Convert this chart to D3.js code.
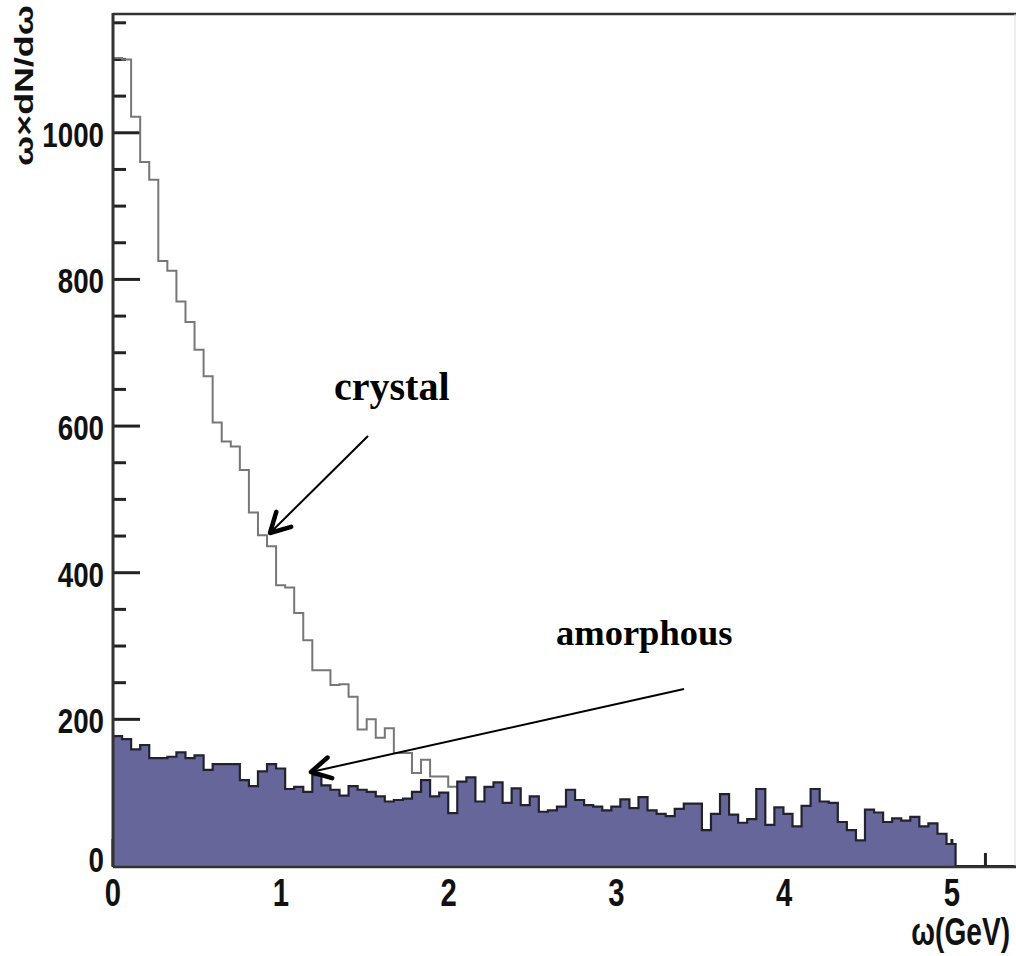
<!DOCTYPE html>
<html>
<head>
<meta charset="utf-8">
<script src="https://cdn.jsdelivr.net/npm/d3@7"></script>
<style>
    html, body { margin: 0; padding: 0; background: #fff; }
    svg { display: block; }
    .tick-label { font-family: "Liberation Sans", Arial, sans-serif; font-weight: bold; font-size: 36px; fill: #111; }
    .note { font-family: "Liberation Serif", "Times New Roman", serif; font-weight: bold; font-size: 36px; fill: #000; }
</style>
</head>
<body>
<svg id="chart" width="1016" height="956"></svg>
<script>
'use strict';

// histogram bins, 0.054 GeV wide, starting at 0
var binWidth = 0.054;
var crystal = [1102, 1100, 1022, 960, 936, 825, 812, 770, 742, 704, 668, 605, 579, 572, 540, 482, 451, 436, 383, 380,
    345, 308, 267, 267, 247, 248, 231, 186, 200, 175, 188, 154, 154, 127, 145, 122, 122, 108];
var amorphous = [177, 173, 159, 165, 147, 147, 149, 155, 147, 151, 131, 139, 139, 139, 117, 109, 129, 139, 133, 105,
    108, 101, 124, 110, 104, 96, 109, 104, 101, 95, 88, 90, 92, 101, 117, 95, 100, 72, 115, 121,
    88, 108, 114, 86, 106, 83, 95, 74, 76, 81, 104, 90, 83, 81, 76, 81, 91, 79, 94, 76,
    71, 68, 78, 85, 85, 49, 71, 98, 70, 59, 64, 105, 56, 80, 71, 54, 82, 105, 88, 86,
    60, 49, 35, 77, 73, 60, 65, 62, 67, 54, 58, 44, 30];

var xTicks = [0, 1, 2, 3, 4, 5];
var yTicks = [0, 200, 400, 600, 800, 1000];
var xMinorStep = 0.2;
var yMinorStep = 50;
var xTitle = "ω(GeV)";
var yTitle = "ω×dN/dω";

var svg = d3.select("#chart");
var x = d3.scaleLinear().domain([0, 5.4]).range([113, 1019]);
var y = d3.scaleLinear().domain([0, 1162]).range([866, 14]);
var narrow = 0.77;   // labels in the picture use a condensed face

function stepPoints(values) {
    var pts = [];
    values.forEach(function (v, i) {
        pts.push([i * binWidth, v]);
        pts.push([(i + 1) * binWidth, v]);
    });
    return pts;
}

// minor / major ticks (drawn first, the filled histogram covers them)
var ticks = svg.append("g").attr("stroke", "#222").attr("stroke-width", 3);
d3.range(0, 1162, yMinorStep).forEach(function (v) {
    var major = yTicks.indexOf(v) >= 0;
    ticks.append("line").attr("x1", x(0)).attr("x2", x(0) + (major ? 27 : 13))
        .attr("y1", y(v)).attr("y2", y(v));
});
d3.range(0, 5.45, xMinorStep).forEach(function (v) {
    var major = Math.abs(v - Math.round(v)) < 1e-6;
    ticks.append("line").attr("x1", x(v)).attr("x2", x(v))
        .attr("y1", y(0)).attr("y2", y(0) - (major ? 27 : 13));
});

// crystal histogram, plain outline
var crystalPts = stepPoints(crystal);
svg.append("path")
    .attr("d", d3.line().x(function (d) { return x(d[0]); }).y(function (d) { return y(d[1]); })(crystalPts))
    .attr("fill", "none")
    .attr("stroke", "#777")
    .attr("stroke-width", 2);

// amorphous histogram, filled
var amorPts = stepPoints(amorphous);
amorPts.push([amorphous.length * binWidth, 0]);
svg.append("path")
    .attr("d", d3.area().x(function (d) { return x(d[0]); }).y0(y(0)).y1(function (d) { return y(d[1]); })(amorPts))
    .attr("fill", "#66669a");
svg.append("path")
    .attr("d", d3.line().x(function (d) { return x(d[0]); }).y(function (d) { return y(d[1]); })(amorPts.concat([[5.4, 0]])))
    .attr("fill", "none")
    .attr("stroke", "#22222e")
    .attr("stroke-width", 2.2);

// frame and axis lines
svg.append("line").attr("x1", x(0)).attr("x2", 1016).attr("y1", y(1162)).attr("y2", y(1162))
    .attr("stroke", "#333").attr("stroke-width", 2.5);
svg.append("line").attr("x1", 1015).attr("x2", 1015).attr("y1", y(1162)).attr("y2", y(0))
    .attr("stroke", "#ddd").attr("stroke-width", 1);
svg.append("line").attr("x1", x(0)).attr("x2", x(0)).attr("y1", y(1162) - 1).attr("y2", y(0) + 1)
    .attr("stroke", "#333").attr("stroke-width", 3);
svg.append("line").attr("x1", x(0)).attr("x2", 1016).attr("y1", y(0) + 1).attr("y2", y(0) + 1)
    .attr("stroke", "#333").attr("stroke-width", 2.5);

// condensed text: position with a transform, squeeze horizontally
function narrowText(tx, ty, str, anchor, size, sx) {
    var t = svg.append("text")
        .attr("class", "tick-label")
        .attr("text-anchor", anchor)
        .attr("transform", "translate(" + tx + "," + ty + ") scale(" + (sx || narrow) + ",1)")
        .text(str);
    if (size) t.style("font-size", size + "px");
    return t;
}

// tick labels
yTicks.forEach(function (d) {
    narrowText(104, y(d) + (d === 0 ? -7 : 1) + 13, d, "end");
});
xTicks.forEach(function (d) {
    narrowText(x(d), 906, d, "middle", 38);
});

// axis titles
narrowText(1010, 945, xTitle, "end", 38, 0.74);
svg.append("text")
    .attr("class", "tick-label")
    .attr("transform", "translate(33,166) rotate(-90)")
    .attr("textLength", 161).attr("lengthAdjust", "spacingAndGlyphs")
    .style("font-size", "25px")
    .text(yTitle);

// annotations with arrows
function arrow(x1, y1, x2, y2) {
    var ang = Math.atan2(y2 - y1, x2 - x1);
    var len = 22, spread = 0.5;
    svg.append("line").attr("x1", x1).attr("y1", y1).attr("x2", x2).attr("y2", y2)
        .attr("stroke", "#000").attr("stroke-width", 2);
    var p1 = [x2 - len * Math.cos(ang - spread), y2 - len * Math.sin(ang - spread)];
    var p2 = [x2 - len * Math.cos(ang + spread), y2 - len * Math.sin(ang + spread)];
    svg.append("path")
        .attr("d", "M" + p1 + "L" + [x2, y2] + "L" + p2)
        .attr("fill", "none").attr("stroke", "#000").attr("stroke-width", 4.5)
        .attr("stroke-linecap", "round").attr("stroke-linejoin", "round");
}

svg.append("text").attr("class", "note").attr("x", 334).attr("y", 400).style("font-size", "40px").text("crystal");
arrow(368, 436, 270, 533);
svg.append("text").attr("class", "note").attr("x", 556).attr("y", 645).style("font-size", "36.5px").text("amorphous");
arrow(684, 689, 311, 772);
</script>
</body>
</html>
